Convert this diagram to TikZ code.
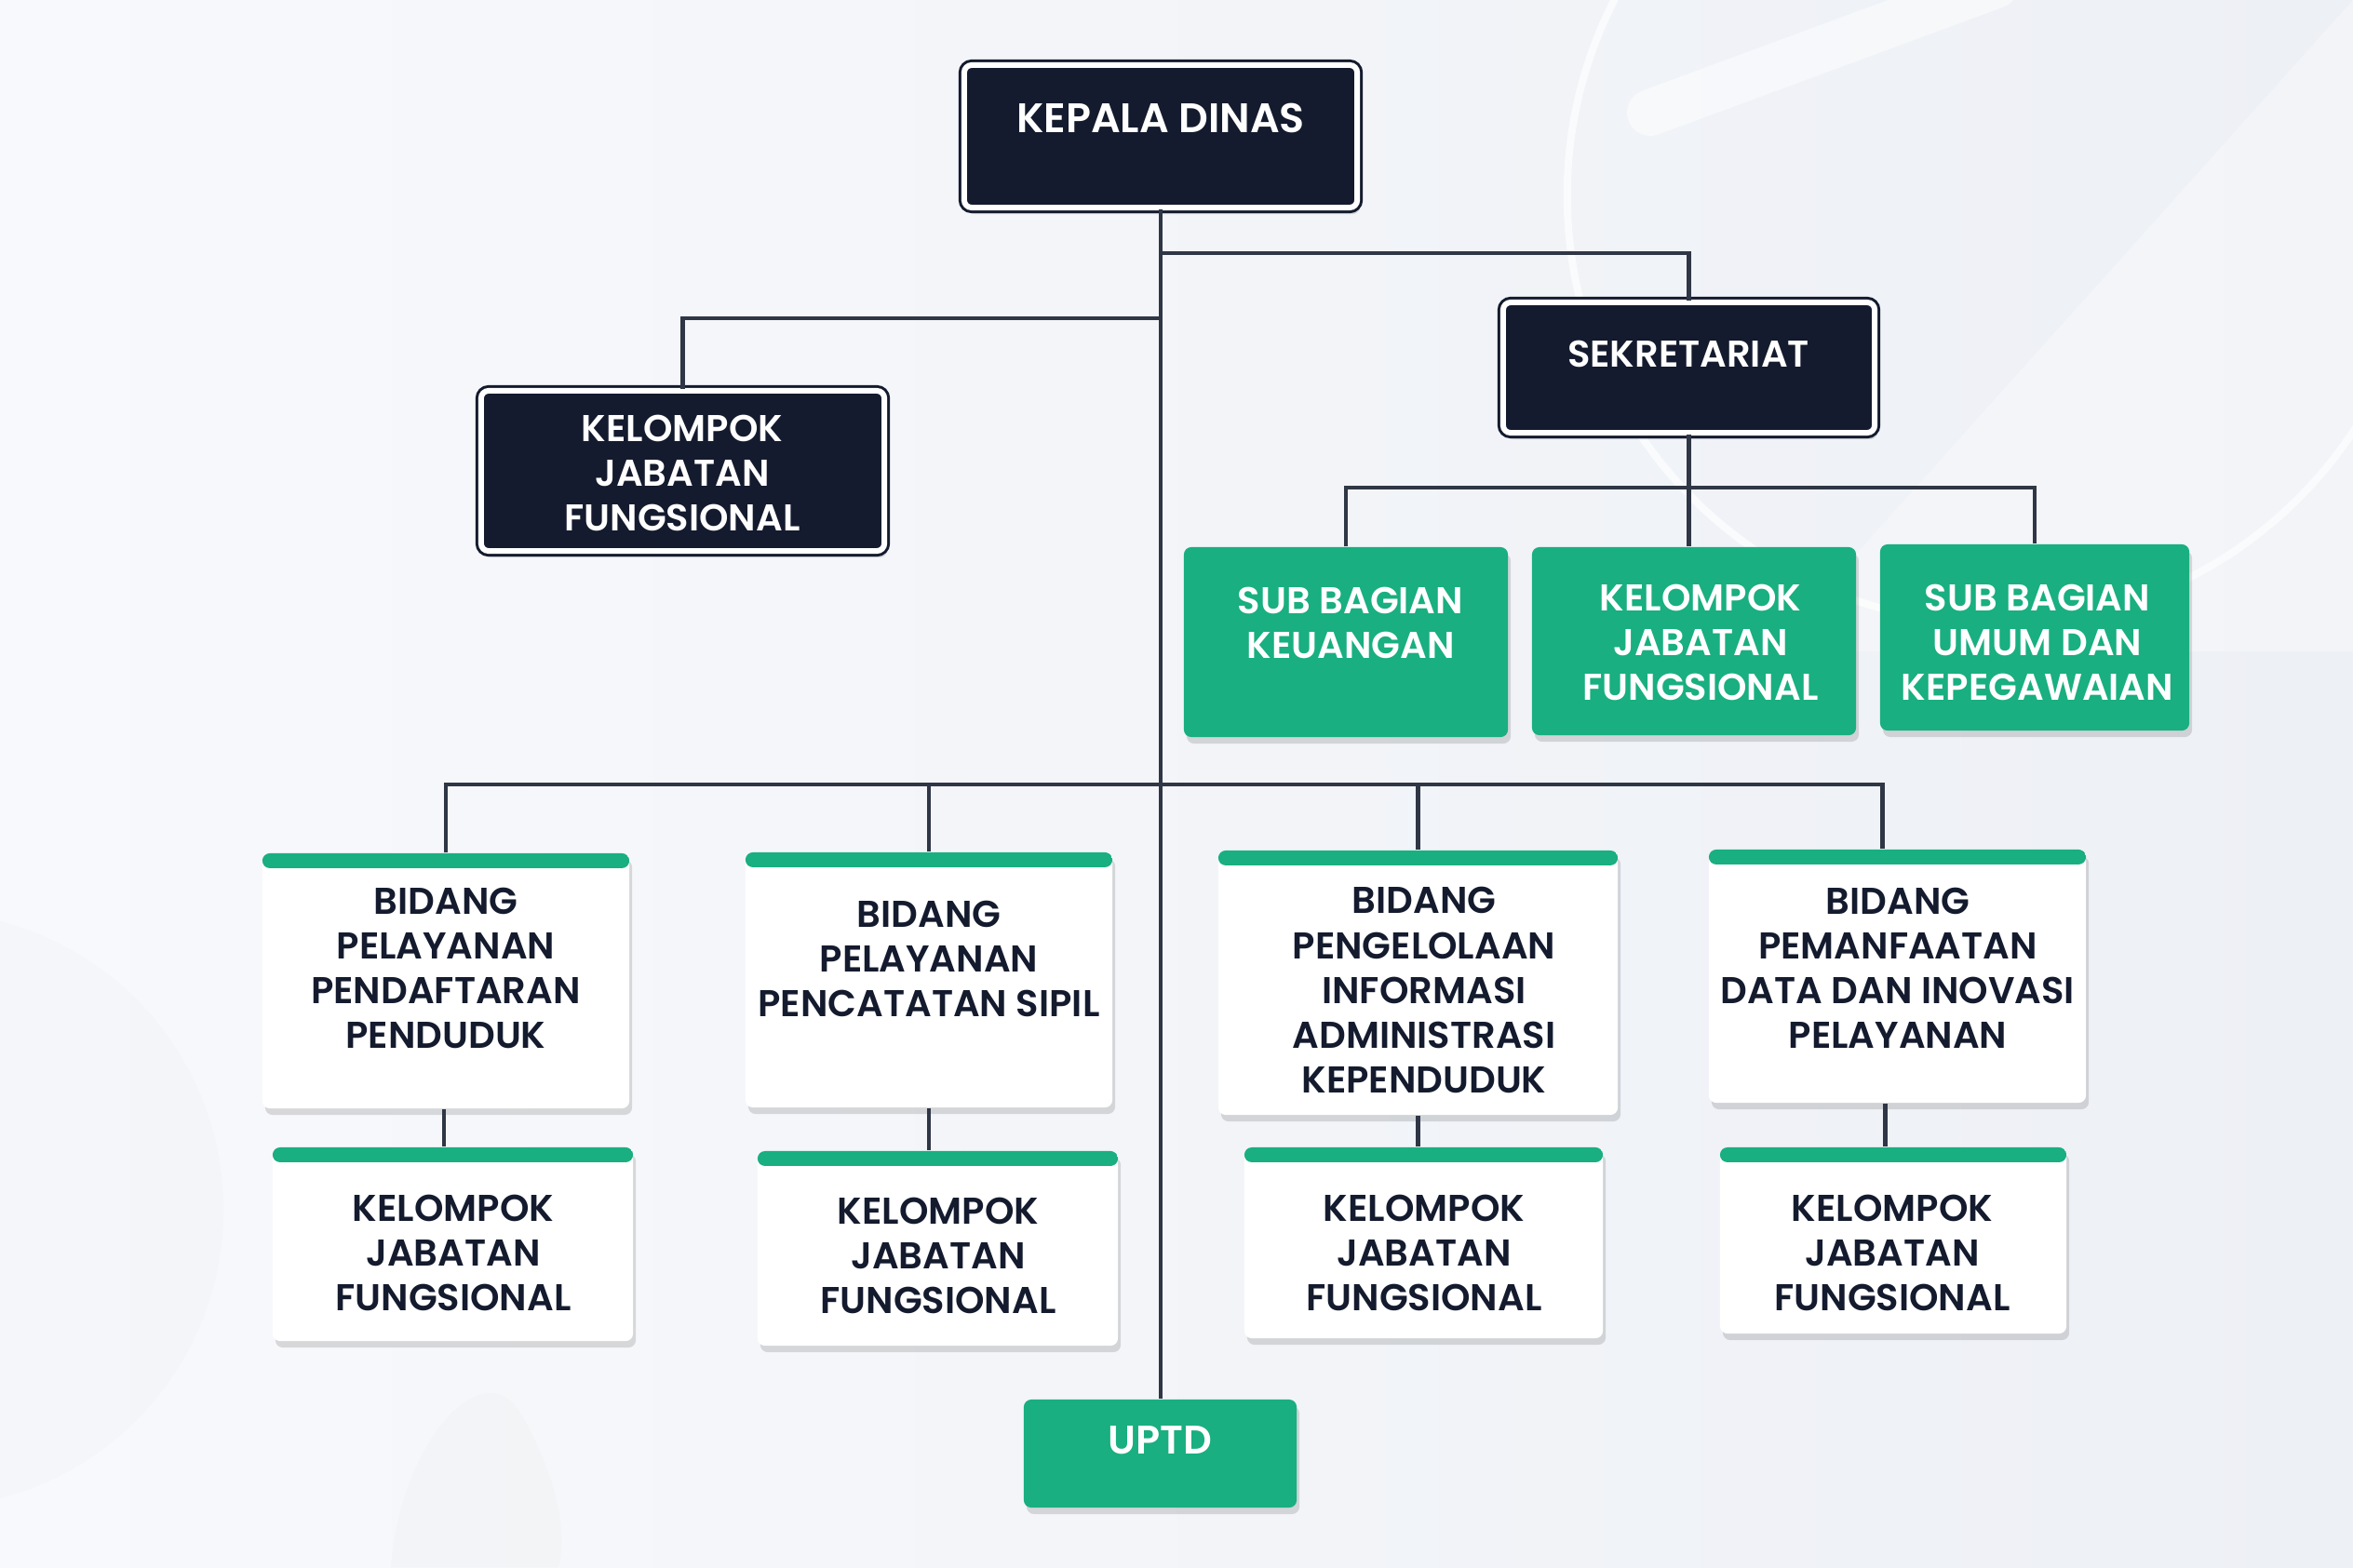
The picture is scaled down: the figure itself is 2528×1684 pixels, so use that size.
\documentclass[tikz,border=0pt]{standalone}
\usepackage{fontspec}
\setmainfont{Poppins}[BoldFont={Poppins SemiBold}]
\usetikzlibrary{shadows,calc}
\definecolor{navy}{HTML}{141B2E}
\definecolor{grn}{HTML}{19AF80}
\definecolor{linec}{HTML}{2F3645}
\definecolor{bgl}{HTML}{F8F9FC}
\definecolor{bgr}{HTML}{EDF0F5}
\begin{document}
\begin{tikzpicture}[x=0.01cm,y=-0.01cm,
  txt/.style={font=\bfseries\fontsize{11.4}{13.66}\selectfont, align=center, inner sep=0pt},
  bigtxt/.style={txt, font=\bfseries\fontsize{12.6}{13.66}\selectfont},
  shad/.style={drop shadow={shadow xshift=0.03cm, shadow yshift=-0.07cm, opacity=0.13, fill=black}},
  darkbox/.style={rectangle, rounded corners=0.08cm, fill=navy, draw=navy, line width=0.03cm, double=white, double distance=0.06cm, shad},
  greenbox/.style={rectangle, rounded corners=0.08cm, fill=grn, shad},
  whitebox/.style={rectangle, rounded corners=0.08cm, fill=white, shad,
    path picture={\fill[grn] (path picture bounding box.north west) rectangle ([yshift=-0.16cm]path picture bounding box.north east);}},
  conn/.style={draw=linec, line width=0.045cm}
]
% background
\shade[left color=bgl, right color=bgr] (0,0) rectangle (2528,1684);
\useasboundingbox (0,0) rectangle (2528,1684);
\begin{scope}
\clip (0,0) rectangle (2528,1684);
\draw[white, line width=0.08cm, opacity=0.7] (2144,210) circle (4.6cm);
\draw[white, line width=0.5cm, line cap=round, opacity=0.5] (1773,121) -- (2144,-16);
\fill[white, opacity=0.3] (1900,700) -- (2528,0) -- (2528,700) -- cycle;
\fill[bgr!80!gray!40, opacity=0.25] (-80,1300) circle (3.2cm);
\fill[bgr!70!gray!40, opacity=0.25] (420,1684) .. controls (430,1550) and (520,1450) .. (560,1520) .. controls (600,1590) and (610,1650) .. (600,1684) -- cycle;
\end{scope}

% boxes
\node[darkbox, minimum width=4.22cm, minimum height=1.53cm] (kd) at (1247,146.5) {};
\node[darkbox, minimum width=3.99cm, minimum height=1.40cm] (sek) at (1814.5,395) {};
\node[darkbox, minimum width=4.33cm, minimum height=1.72cm] (kjfL) at (733.5,506) {};

\node[greenbox, minimum width=3.48cm, minimum height=2.04cm] (sbk) at (1446,690) {};
\node[greenbox, minimum width=3.48cm, minimum height=2.02cm] (kjfS) at (1820,689) {};
\node[greenbox, minimum width=3.32cm, minimum height=2.00cm] (sbu) at (2186,685) {};

\node[whitebox, minimum width=3.94cm, minimum height=2.74cm] (b1) at (479,1054) {};
\node[whitebox, minimum width=3.87cm, minimum height=2.08cm] (kj1) at (486.5,1337) {};
\node[whitebox, minimum width=3.94cm, minimum height=2.74cm] (b2) at (998,1053) {};
\node[whitebox, minimum width=3.87cm, minimum height=2.09cm] (kj2) at (1007.5,1341.5) {};
\node[whitebox, minimum width=4.29cm, minimum height=2.84cm] (b3) at (1523.5,1056) {};
\node[whitebox, minimum width=3.85cm, minimum height=2.05cm] (kj3) at (1529.5,1335.5) {};
\node[whitebox, minimum width=4.05cm, minimum height=2.72cm] (b4) at (2038.5,1049) {};
\node[whitebox, minimum width=3.72cm, minimum height=2.00cm] (kj4) at (2034,1333) {};

\node[greenbox, minimum width=2.93cm, minimum height=1.16cm] (uptd) at (1246.5,1562) {};

% junction coordinates
\coordinate (jS) at (0,272);
\coordinate (jL) at (0,342);
\coordinate (busS) at (0,524);
\coordinate (busB) at (0,843);

% connectors
\draw[conn] (kd.south) -- (kd.south |- uptd.north);
\draw[conn] (kd.south |- jS) -| (sek.north);
\draw[conn] (kd.south |- jL) -| (kjfL.north);
\draw[conn] (sek.south) -- (sek.south |- kjfS.north);
\draw[conn] (sbk.north) -- (sbk.north |- busS) -| (sbu.north);
\draw[conn] (b1.north) -- (b1.north |- busB) -| ($(b4.north)+(-16,0)$);
\draw[conn] (b2.north) -- (b2.north |- busB);
\draw[conn] (b3.north) -- (b3.north |- busB);
\draw[conn] ([xshift=-0.02cm]b1.south) -- ([xshift=-0.02cm]b1.south |- kj1.north);
\draw[conn] (b2.south) -- (b2.south |- kj2.north);
\draw[conn] (b3.south) -- (b3.south |- kj3.north);
\draw[conn] ([xshift=-0.13cm]b4.south) -- ([xshift=-0.13cm]b4.south |- kj4.north);

% texts
\node[bigtxt, text=white] (kdT) at (1247,127) {KEPALA DINAS};
\node[txt, text=white] (sekT) at (1814,380) {SEKRETARIAT};
\node[txt, text=white] (kjfLT) at (733,508) {KELOMPOK\\JABATAN\\FUNGSIONAL};
\node[txt, text=white] (sbkT) at (1451,669) {SUB BAGIAN\\KEUANGAN};
\node[txt, text=white] (kjfST) at (1827,690) {KELOMPOK\\JABATAN\\FUNGSIONAL};
\node[txt, text=white] (sbuT) at (2189,690) {SUB BAGIAN\\UMUM DAN\\KEPEGAWAIAN};
\node[txt, text=navy] (b1T) at (479,1040) {BIDANG\\PELAYANAN\\PENDAFTARAN\\PENDUDUK};
\node[txt, text=navy] (kj1T) at (487,1346) {KELOMPOK\\JABATAN\\FUNGSIONAL};
\node[txt, text=navy] (b2T) at (998,1030) {BIDANG\\PELAYANAN\\PENCATATAN SIPIL};
\node[txt, text=navy] (kj2T) at (1008,1349) {KELOMPOK\\JABATAN\\FUNGSIONAL};
\node[txt, text=navy] (b3T) at (1530,1064) {BIDANG\\PENGELOLAAN\\INFORMASI\\ADMINISTRASI\\KEPENDUDUK};
\node[txt, text=navy] (kj3T) at (1530,1346) {KELOMPOK\\JABATAN\\FUNGSIONAL};
\node[txt, text=navy] (b4T) at (2039,1040) {BIDANG\\PEMANFAATAN\\DATA DAN INOVASI\\PELAYANAN};
\node[txt, text=navy] (kj4T) at (2033,1346) {KELOMPOK\\JABATAN\\FUNGSIONAL};
\node[txt, text=white, font=\bfseries\fontsize{12.2}{13.66}\selectfont] (uptdT) at (1246,1548) {UPTD};
\end{tikzpicture}
\end{document}
